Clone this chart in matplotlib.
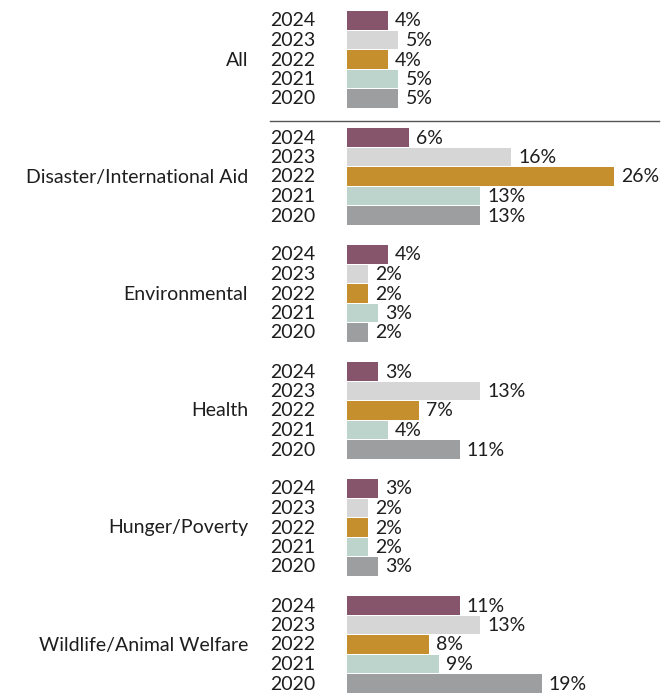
import matplotlib
matplotlib.use("Agg")
import matplotlib.pyplot as plt

plt.rcParams['font.family'] = ['Lato', 'DejaVu Sans']

categories = ['All', 'Disaster/International Aid', 'Environmental', 'Health',
              'Hunger/Poverty', 'Wildlife/Animal Welfare']
years = ['2024', '2023', '2022', '2021', '2020']
values = [
    [4, 5, 4, 5, 5],
    [6, 16, 26, 13, 13],
    [4, 2, 2, 3, 2],
    [3, 13, 7, 4, 11],
    [3, 2, 2, 2, 3],
    [11, 13, 8, 9, 19],
]
colors = ['#86546B', '#D6D6D6', '#C58F2E', '#BCD4CB', '#9D9E9F']

W, H = 662, 693
fig = plt.figure(figsize=(W / 100, H / 100), dpi=100)

# axes spans from bar baseline to right edge
x0, x1 = 347, 659
ax = fig.add_axes([x0 / W, 0, (x1 - x0) / W, 1])
px_per_pct = 10.25
ax.set_xlim(0, (x1 - x0) / px_per_pct)

pitch = 19.5
top = 20.5
ax.set_ylim((H - top) / pitch, -top / pitch)
ax.axis('off')

fs = 14
tc = '#1e1e1e'
nudge = 1.0  # px, lift text slightly


def fy(row):
    return 1 - (top + row * pitch - nudge) / H


for g, (cat, vals) in enumerate(zip(categories, values)):
    base = g * 6
    for i, (yr, v) in enumerate(zip(years, vals)):
        y = base + i
        ax.barh(y, v, height=0.93, color=colors[i])
        ax.text(v + 0.7, y - nudge / pitch, f'{v}%', va='center_baseline', ha='left',
                fontsize=fs, color=tc)
        fig.text(270 / W, fy(y), yr, va='center_baseline', ha='left', fontsize=fs, color=tc)
    fig.text(248 / W, fy(base + 2), cat, va='center_baseline', ha='right',
             fontsize=fs, color=tc)

# separator under "All"
sep_y = 1 - 121 / H
fig.add_artist(plt.Line2D([270 / W, 659 / W], [sep_y, sep_y], color='#555555', lw=1.0))

fig.savefig('out.png', dpi=100)
